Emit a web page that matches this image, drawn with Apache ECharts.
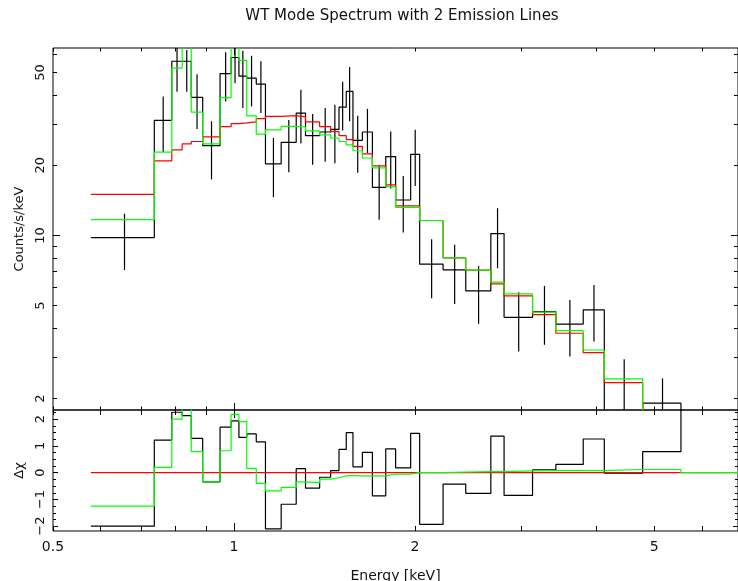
<!DOCTYPE html>
<html>
<head>
<meta charset="utf-8">
<title>WT Mode Spectrum</title>
<script src="https://cdn.jsdelivr.net/npm/echarts@6/dist/echarts.min.js"></script>
<style>
  html, body { margin: 0; padding: 0; background: #fff; }
  #chart { width: 738px; height: 581px; }
</style>
</head>
<body>
<div id="chart"></div>
<script>
// Energy bin edges [keV] of the grouped spectrum (37 edges -> 36 channels)
const binEdges = [0.578, 0.737, 0.788, 0.820, 0.849, 0.887, 0.948, 0.989, 1.019, 1.050,
  1.089, 1.128, 1.198, 1.269, 1.315, 1.388, 1.448, 1.495, 1.537, 1.577,
  1.635, 1.699, 1.788, 1.857, 1.967, 2.036, 2.227, 2.429, 2.674, 2.813,
  3.137, 3.430, 3.809, 4.129, 4.783, 5.538, 7.2];

// Observed rate per channel [counts/s/keV] with 1-sigma bounds
const counts = [9.8, 31.2, 55.9, 55.9, 39.1, 24.3, 49.5, 58, 48.3, 47.3,
  44.6, 20.3, 25.1, 33.5, 26.8, 27.8, 28.5, 35.5, 41.5, 25.6,
  27.8, 16.1, 21.8, 14.2, 22.3, 7.54, 7.13, 5.79, 10.2, 4.46,
  4.72, 4.17, 4.80, 1.55, 1.91, 1.2];
const countsLow = [7.12, 22.8, 41.4, 41.4, 28.6, 17.4, 37.6, 45, 35.2, 35.8,
  33.5, 14.6, 18.7, 24.8, 20.1, 20.7, 20.4, 28.2, 30.9, 18.6,
  22.6, 11.7, 15.9, 10.3, 16.3, 5.39, 5.09, 4.18, 7.24, 3.18,
  3.40, 3.03, 3.51, 0.9, 1.2, null];
const countsHigh = [12.4, 39.5, 66, 62.5, 49.2, 30.9, 61.1, 72, 62.0, 59.0,
  55.9, 26.2, 31.3, 42.2, 33.2, 35.2, 36.4, 45.6, 52.8, 32.6,
  34.9, 19.9, 27.9, 18.0, 28.4, 9.65, 9.12, 7.41, 13.1, 5.71,
  6.08, 5.29, 6.14, 2.95, 2.44, null];

// Continuum-only model (red) and continuum + 2 lines model (green)
const modelContinuum = [15.0, 20.9, 23.3, 24.7, 25.3, 26.5, 29.3, 30.2, 30.4, 30.7,
  31.7, 32.4, 32.7, 32.3, 30.7, 29.3, 27.9, 26.8, 25.8, 24.1,
  22.4, 19.9, 16.5, 13.4, 13.4, 11.6, 8.02, 7.10, 6.20, 5.51,
  4.58, 3.81, 3.15, 2.34, 1.6, 1.4];
const modelLines = [11.7, 22.8, 52.2, 66, 33.8, 24.7, 39.0, 66, 56.4, 32.6,
  27.2, 28.4, 29.4, 29.2, 28.1, 27.0, 26.2, 25.3, 24.5, 23.1,
  21.5, 19.5, 16.2, 13.2, 13.2, 11.6, 8.02, 7.10, 6.31, 5.62,
  4.69, 3.91, 3.23, 2.43, 1.6, 1.4];

// Residuals (data - model) / error
const delchiData = [-2.0, 1.22, 2.26, 2.13, 1.28, -0.34, 1.70, 1.94, 1.32, 1.45,
  1.15, -2.1, -1.18, 0.15, -0.58, -0.17, 0.08, 0.87, 1.50, 0.22,
  0.76, -0.87, 0.89, 0.18, 1.47, -1.93, -0.43, -0.77, 1.37, -0.85,
  0.11, 0.31, 1.26, -0.02, 0.79, 3.0];
const delchiContinuum = [0, 0, 0, 0, 0, 0, 0, 0, 0, 0,
  0, 0, 0, 0, 0, 0, 0, 0, 0, 0,
  0, 0, 0, 0, 0, 0, 0, 0, 0, 0,
  0, 0, 0, 0, 0, 0];
const delchiLines = [-1.25, 0.20, 2.0, 2.6, 0.79, -0.34, 0.82, 2.18, 1.91, 0.16,
  -0.40, -0.68, -0.55, -0.34, -0.37, -0.24, -0.19, -0.12, -0.10, -0.12,
  -0.12, -0.12, -0.05, -0.05, 0.0, 0.0, 0.02, 0.04, 0.04, 0.07,
  0.08, 0.08, 0.08, 0.12, 0.12, 0.0];

// Axis ranges and tick positions
const energyRange = [0.5, 6.89];
const countsRange = [1.786, 63.7];
const delchiRange = [-2.18, 2.344];
const energyTickLabels = [0.5, 1, 2, 5];
const energyMinorTicks = [0.5, 0.6, 0.7, 0.8, 0.9, 2, 3, 4, 5, 6];
const energyMajorTicks = [1];
const countsTickLabels = [2, 5, 10, 20, 50];
const countsMinorTicks = [2, 3, 4, 5, 6, 7, 8, 9, 20, 30, 40, 50, 60];
const countsMajorTicks = [10];
const delchiTickLabels = [-2, -1, 0, 1, 2];
const delchiMinorTicks = [-2, -1.75, -1.5, -1.25, -1, -0.75, -0.5, -0.25, 0,
  0.25, 0.5, 0.75, 1, 1.25, 1.5, 1.75, 2, 2.25];
const delchiMajorTicks = [-2, -1, 0, 1, 2];

const FONT = 'DejaVu Sans';
const INK = '#111';

// Histogram outline: one point per lower edge plus the final upper edge
function stepPoints(values) {
  const pts = values.map((v, i) => [binEdges[i], v]);
  pts.push([binEdges[binEdges.length - 1], values[values.length - 1]]);
  return pts;
}

function errorBarData() {
  const out = [];
  for (let i = 0; i < counts.length; i++) {
    if (countsLow[i] == null) continue;
    out.push([(binEdges[i] + binEdges[i + 1]) / 2, countsLow[i], countsHigh[i]]);
  }
  return out;
}

function fmt(v) {
  const n = +(+v).toPrecision(3);
  return n < 0 ? '\u2212' + Math.abs(n) : String(n);
}

// A frame side that only carries inward ticks (and optionally labels)
function side(gridIndex, position, type, range, ticks, len, extra) {
  const ax = {
    type: type,
    gridIndex: gridIndex,
    position: position,
    min: range[0],
    max: range[1],
    axisLine: { show: false, onZero: false },
    splitLine: { show: false },
    minorTick: { show: false },
    axisTick: {
      show: true, inside: true, length: len, customValues: ticks,
      lineStyle: { color: '#000', width: 1 }
    },
    axisLabel: { show: false },
    silent: true
  };
  if (type === 'log') ax.logBase = 10;
  return Object.assign(ax, extra || {});
}

const labelStyle = { show: true, fontFamily: FONT, fontSize: 13, color: INK, formatter: fmt };

const xAxes = [
  side(0, 'bottom', 'log', energyRange, energyMinorTicks, 3.5),
  side(0, 'bottom', 'log', energyRange, energyMajorTicks, 7),
  side(0, 'top', 'log', energyRange, energyMinorTicks, 3.5),
  side(0, 'top', 'log', energyRange, energyMajorTicks, 7),
  side(1, 'bottom', 'log', energyRange, energyMinorTicks, 5, {
    axisLabel: Object.assign({}, labelStyle, { customValues: energyTickLabels, margin: 9, fontSize: 14 }),
    name: 'Energy [keV]', nameLocation: 'middle', nameGap: 38,
    nameTextStyle: { fontFamily: FONT, fontSize: 14, color: INK }
  }),
  side(1, 'bottom', 'log', energyRange, energyMajorTicks, 8),
  side(1, 'top', 'log', energyRange, energyMinorTicks, 5),
  side(1, 'top', 'log', energyRange, energyMajorTicks, 8)
];

const yAxes = [
  side(0, 'left', 'log', countsRange, countsMinorTicks, 4, {
    axisLabel: Object.assign({}, labelStyle, { customValues: countsTickLabels, rotate: 90, margin: 6 }),
    name: 'Counts/s/keV', nameLocation: 'middle', nameGap: 26,
    nameTextStyle: { fontFamily: FONT, fontSize: 13, color: INK }
  }),
  side(0, 'left', 'log', countsRange, countsMajorTicks, 7),
  side(0, 'right', 'log', countsRange, countsMinorTicks, 4),
  side(0, 'right', 'log', countsRange, countsMajorTicks, 7),
  side(1, 'left', 'value', delchiRange, delchiMinorTicks, 3, {
    axisLabel: Object.assign({}, labelStyle, { customValues: delchiTickLabels, rotate: 90, margin: 6 }),
    name: '\u0394\u03c7', nameLocation: 'middle', nameGap: 27,
    nameTextStyle: { fontFamily: FONT, fontSize: 13, color: INK }
  }),
  side(1, 'left', 'value', delchiRange, delchiMajorTicks, 5),
  side(1, 'right', 'value', delchiRange, delchiMinorTicks, 3),
  side(1, 'right', 'value', delchiRange, delchiMajorTicks, 5)
];

function stepSeries(values, color, xi, yi, width) {
  return {
    type: 'line', step: 'end', xAxisIndex: xi, yAxisIndex: yi,
    data: stepPoints(values), showSymbol: false, symbol: 'none',
    clip: true, silent: true,
    lineStyle: { color: color, width: width }
  };
}

const option = {
  animation: false,
  backgroundColor: '#fff',
  textStyle: { fontFamily: FONT },
  title: {
    text: 'WT Mode Spectrum with 2 Emission Lines',
    left: 397, top: 4, textAlign: 'center',
    textStyle: { fontFamily: FONT, fontSize: 15, fontWeight: 'normal', color: INK }
  },
  grid: [
    { left: 53, top: 48, width: 685, height: 362, show: true, borderColor: '#000', borderWidth: 1,
      backgroundColor: 'transparent', containLabel: false, outerBoundsMode: 'none' },
    { left: 53, top: 410, width: 685, height: 121, show: true, borderColor: '#000', borderWidth: 1,
      backgroundColor: 'transparent', containLabel: false, outerBoundsMode: 'none' }
  ],
  xAxis: xAxes,
  yAxis: yAxes,
  series: [
    stepSeries(counts, '#000', 0, 0, 1.2),
    {
      type: 'custom', xAxisIndex: 0, yAxisIndex: 0, clip: true, silent: true,
      data: errorBarData(),
      encode: { x: 0, y: [1, 2] },
      renderItem: function (params, api) {
        const a = api.coord([api.value(0), api.value(1)]);
        const b = api.coord([api.value(0), api.value(2)]);
        return {
          type: 'line',
          shape: { x1: a[0], y1: a[1], x2: b[0], y2: b[1] },
          style: { stroke: '#000', lineWidth: 1.2 }
        };
      }
    },
    stepSeries(modelContinuum, '#ff0000', 0, 0, 1.2),
    stepSeries(modelLines, '#00ff00', 0, 0, 1.2),
    stepSeries(delchiData, '#000', 4, 4, 1.2),
    stepSeries(delchiContinuum, '#ff0000', 4, 4, 1.2),
    stepSeries(delchiLines, '#00ff00', 4, 4, 1.2)
  ]
};

const chart = echarts.init(document.getElementById('chart'), null, { renderer: 'canvas' });
chart.setOption(option);
</script>
</body>
</html>
